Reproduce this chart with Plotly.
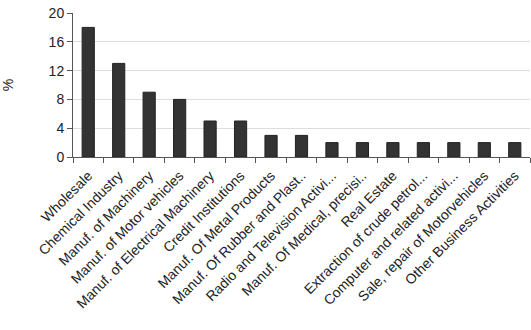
import plotly.graph_objects as go

categories = [
    "Wholesale", "Chemical Industry", "Manuf. of Machinery", "Manuf. of Motor vehicles",
    "Manuf. of Electrical Machinery", "Credit Institutions", "Manuf. Of Metal Products",
    "Manuf. Of Rubber and Plast..", "Radio and Television Activi...", "Manuf. Of Medical, precisi..",
    "Real Estate", "Extraction of crude petrol...", "Computer and related activi...",
    "Sale, repair of Motorvehicles", "Other Business Activities",
]
values = [18, 13, 9, 8, 5, 5, 3, 3, 2, 2, 2, 2, 2, 2, 2]
y_ticks = [0, 4, 8, 12, 16, 20]

fig = go.Figure(go.Bar(
    x=categories, y=values,
    marker=dict(color="#333333", line=dict(color="#222222", width=1)),
))

fig.update_layout(
    width=531, height=330,
    margin=dict(l=73, r=1, t=13, b=173),
    paper_bgcolor="white", plot_bgcolor="white",
    bargap=0.6,
    showlegend=False,
    font=dict(family="Liberation Sans, Arial, sans-serif", color="#222222"),
)
fig.update_xaxes(
    type="category", tickangle=-45, tickson="boundaries",
    ticks="outside", ticklen=5, tickcolor="#555555",
    showline=True, linecolor="#555555", linewidth=1,
    tickfont=dict(size=14), showgrid=False,
    ticklabelstandoff=4, automargin=False,
)
fig.update_yaxes(
    range=[0, 20], tickvals=y_ticks,
    ticks="outside", ticklen=5, tickcolor="#555555",
    showline=True, linecolor="#555555", linewidth=1,
    gridcolor="#dddddd", tickfont=dict(size=14),
    title=dict(text="%", font=dict(size=14), standoff=43),
    zeroline=False, automargin=False,
)

fig.write_html("out.html")
